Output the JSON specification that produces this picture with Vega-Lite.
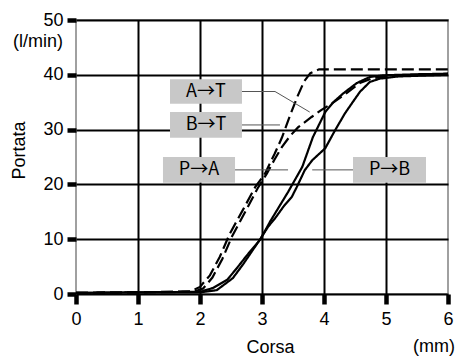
{
  "$schema": "https://vega.github.io/schema/vega-lite/v6.json",
  "width": 372,
  "height": 274,
  "autosize": "none",
  "padding": {"left": 76, "top": 20, "right": 15, "bottom": 62},
  "background": "white",
  "config": {
    "view": {"stroke": "#a0a0a0", "strokeWidth": 2},
    "font": "Liberation Sans"
  },
  "datasets": {
    "curves": [
      {"s": "A", "t": "dashed", "x": 0, "y": 0.2}, {"s": "A", "t": "dashed", "x": 1, "y": 0.3}, {"s": "A", "t": "dashed", "x": 1.85, "y": 0.5}, {"s": "A", "t": "dashed", "x": 2.0, "y": 1.3}, {"s": "A", "t": "dashed", "x": 2.16, "y": 3.4}, {"s": "A", "t": "dashed", "x": 2.32, "y": 6.8}, {"s": "A", "t": "dashed", "x": 2.48, "y": 11}, {"s": "A", "t": "dashed", "x": 2.69, "y": 15.3}, {"s": "A", "t": "dashed", "x": 2.89, "y": 19.5}, {"s": "A", "t": "dashed", "x": 3.05, "y": 22}, {"s": "A", "t": "dashed", "x": 3.2, "y": 25.5}, {"s": "A", "t": "dashed", "x": 3.32, "y": 28.5}, {"s": "A", "t": "dashed", "x": 3.45, "y": 32.5}, {"s": "A", "t": "dashed", "x": 3.57, "y": 36}, {"s": "A", "t": "dashed", "x": 3.68, "y": 38.8}, {"s": "A", "t": "dashed", "x": 3.78, "y": 40.3}, {"s": "A", "t": "dashed", "x": 3.92, "y": 41}, {"s": "A", "t": "dashed", "x": 6, "y": 41},
      {"s": "B", "t": "dashed", "x": 0, "y": 0.2}, {"s": "B", "t": "dashed", "x": 1, "y": 0.3}, {"s": "B", "t": "dashed", "x": 1.9, "y": 0.4}, {"s": "B", "t": "dashed", "x": 2.05, "y": 1.0}, {"s": "B", "t": "dashed", "x": 2.2, "y": 3.0}, {"s": "B", "t": "dashed", "x": 2.36, "y": 6.4}, {"s": "B", "t": "dashed", "x": 2.52, "y": 10.6}, {"s": "B", "t": "dashed", "x": 2.73, "y": 15}, {"s": "B", "t": "dashed", "x": 2.93, "y": 19.3}, {"s": "B", "t": "dashed", "x": 3.08, "y": 22}, {"s": "B", "t": "dashed", "x": 3.2, "y": 24.5}, {"s": "B", "t": "dashed", "x": 3.32, "y": 26.8}, {"s": "B", "t": "dashed", "x": 3.45, "y": 28.8}, {"s": "B", "t": "dashed", "x": 3.58, "y": 30.4}, {"s": "B", "t": "dashed", "x": 3.8, "y": 32.3}, {"s": "B", "t": "dashed", "x": 3.96, "y": 33.6}, {"s": "B", "t": "dashed", "x": 4.13, "y": 34.8}, {"s": "B", "t": "dashed", "x": 4.37, "y": 36.7}, {"s": "B", "t": "dashed", "x": 4.58, "y": 38.5}, {"s": "B", "t": "dashed", "x": 4.79, "y": 39.4}, {"s": "B", "t": "dashed", "x": 5.0, "y": 39.7}, {"s": "B", "t": "dashed", "x": 5.5, "y": 40.0}, {"s": "B", "t": "dashed", "x": 6, "y": 40.2},
      {"s": "PA", "t": "solid", "x": 0, "y": 0.2}, {"s": "PA", "t": "solid", "x": 1, "y": 0.3}, {"s": "PA", "t": "solid", "x": 2.0, "y": 0.4}, {"s": "PA", "t": "solid", "x": 2.21, "y": 1.1}, {"s": "PA", "t": "solid", "x": 2.44, "y": 2.6}, {"s": "PA", "t": "solid", "x": 2.6, "y": 4.8}, {"s": "PA", "t": "solid", "x": 2.76, "y": 7.1}, {"s": "PA", "t": "solid", "x": 2.97, "y": 9.9}, {"s": "PA", "t": "solid", "x": 3.13, "y": 13.2}, {"s": "PA", "t": "solid", "x": 3.28, "y": 16}, {"s": "PA", "t": "solid", "x": 3.42, "y": 18.6}, {"s": "PA", "t": "solid", "x": 3.54, "y": 21}, {"s": "PA", "t": "solid", "x": 3.65, "y": 23.2}, {"s": "PA", "t": "solid", "x": 3.82, "y": 28.6}, {"s": "PA", "t": "solid", "x": 4.02, "y": 33.2}, {"s": "PA", "t": "solid", "x": 4.15, "y": 35}, {"s": "PA", "t": "solid", "x": 4.31, "y": 36.6}, {"s": "PA", "t": "solid", "x": 4.53, "y": 38.5}, {"s": "PA", "t": "solid", "x": 4.74, "y": 39.6}, {"s": "PA", "t": "solid", "x": 4.95, "y": 39.9}, {"s": "PA", "t": "solid", "x": 5.5, "y": 40.1}, {"s": "PA", "t": "solid", "x": 6, "y": 40.2},
      {"s": "PB", "t": "solid", "x": 0, "y": 0.2}, {"s": "PB", "t": "solid", "x": 1, "y": 0.3}, {"s": "PB", "t": "solid", "x": 2.0, "y": 0.3}, {"s": "PB", "t": "solid", "x": 2.27, "y": 0.7}, {"s": "PB", "t": "solid", "x": 2.53, "y": 2.9}, {"s": "PB", "t": "solid", "x": 2.7, "y": 5.5}, {"s": "PB", "t": "solid", "x": 2.85, "y": 8.0}, {"s": "PB", "t": "solid", "x": 2.97, "y": 10}, {"s": "PB", "t": "solid", "x": 3.1, "y": 12.3}, {"s": "PB", "t": "solid", "x": 3.21, "y": 13.8}, {"s": "PB", "t": "solid", "x": 3.35, "y": 16}, {"s": "PB", "t": "solid", "x": 3.48, "y": 17.7}, {"s": "PB", "t": "solid", "x": 3.56, "y": 19.5}, {"s": "PB", "t": "solid", "x": 3.69, "y": 22.6}, {"s": "PB", "t": "solid", "x": 3.81, "y": 24.4}, {"s": "PB", "t": "solid", "x": 4.02, "y": 26.6}, {"s": "PB", "t": "solid", "x": 4.18, "y": 29.9}, {"s": "PB", "t": "solid", "x": 4.34, "y": 33}, {"s": "PB", "t": "solid", "x": 4.45, "y": 34.8}, {"s": "PB", "t": "solid", "x": 4.58, "y": 36.9}, {"s": "PB", "t": "solid", "x": 4.74, "y": 38.7}, {"s": "PB", "t": "solid", "x": 4.9, "y": 39.3}, {"s": "PB", "t": "solid", "x": 5.2, "y": 39.7}, {"s": "PB", "t": "solid", "x": 6, "y": 40.0}
    ],
    "boxes": [
      {"label": "A→T", "x1": 1.516, "x2": 2.677, "y1": 34.7, "y2": 39.2},
      {"label": "B→T", "x1": 1.516, "x2": 2.677, "y1": 28.5, "y2": 33.2},
      {"label": "P→A", "x1": 1.403, "x2": 2.565, "y1": 20.3, "y2": 25.0},
      {"label": "P→B", "x1": 4.468, "x2": 5.645, "y1": 20.3, "y2": 25.0}
    ],
    "leaders": [
      {"g": "A", "o": 1, "x": 2.677, "y": 36.95}, {"g": "A", "o": 2, "x": 3.21, "y": 36.95}, {"g": "A", "o": 3, "x": 3.77, "y": 33.2},
      {"g": "B", "o": 1, "x": 2.677, "y": 30.85}, {"g": "B", "o": 2, "x": 3.29, "y": 30.85},
      {"g": "PA", "o": 1, "x": 2.565, "y": 22.65}, {"g": "PA", "o": 2, "x": 3.42, "y": 22.65},
      {"g": "PB", "o": 1, "x": 4.468, "y": 22.65}, {"g": "PB", "o": 2, "x": 3.81, "y": 22.65}
    ],
    "units": [
      {"x": 6, "y": 0, "text": "(mm)", "k": "x"},
      {"x": 0, "y": 45, "text": "(l/min)", "k": "y"}
    ]
  },
  "layer": [
    {
      "data": {"name": "curves"},
      "mark": {"type": "line", "color": "black", "strokeWidth": 2.2, "clip": true},
      "encoding": {
        "x": {
          "field": "x", "type": "quantitative",
          "scale": {"domain": [0, 6], "nice": false, "zero": false},
          "axis": {
            "title": "Corsa",
            "titleFontSize": 18, "titleFontWeight": "normal", "titleColor": "black", "titleFont": "Liberation Sans",
            "titleX": 194, "titleY": 58, "titleBaseline": "alphabetic", "titleAlign": "center",
            "values": [0, 0.5, 1, 1.5, 2, 2.5, 3, 3.5, 4, 4.5, 5, 5.5, 6],
            "format": "d",
            "labelExpr": "datum.value % 1 === 0 ? datum.label : ''",
            "labelFontSize": 18, "labelColor": "black", "labelPadding": 6, "labelFlush": false, "labelOverlap": false,
            "domain": false,
            "tickColor": "black",
            "tickSize": 10,
            "tickWidth": {"condition": {"test": "datum.value % 1 === 0", "value": 4.5}, "value": 1.5},
            "grid": true, "gridColor": "black", "gridWidth": 2,
            "gridOpacity": {"condition": {"test": "datum.value % 1 === 0 && datum.value > 0 && datum.value < 6", "value": 1}, "value": 0}
          }
        },
        "y": {
          "field": "y", "type": "quantitative",
          "scale": {"domain": [0, 50], "nice": false},
          "axis": {
            "title": "Portata",
            "titleFontSize": 18, "titleFontWeight": "normal", "titleColor": "black", "titleFont": "Liberation Sans",
            "titleX": -57, "titleY": 130, "titleAlign": "center", "titleBaseline": "middle", "titleAngle": -90,
            "values": [0, 5, 10, 15, 20, 25, 30, 35, 40, 45, 50],
            "format": "d",
            "labelExpr": "datum.value % 10 === 0 ? datum.label : ''",
            "labelFontSize": 18, "labelColor": "black", "labelPadding": 4, "labelFlush": false, "labelOverlap": false,
            "domain": false,
            "tickColor": "black",
            "tickSize": 9,
            "tickWidth": {"condition": {"test": "datum.value % 10 === 0", "value": 4.5}, "value": 1.5},
            "grid": true, "gridColor": "black", "gridWidth": 2,
            "gridOpacity": {"condition": {"test": "datum.value % 10 === 0", "value": 1}, "value": 0}
          }
        },
        "detail": {"field": "s"},
        "strokeDash": {
          "field": "t", "type": "nominal",
          "scale": {"domain": ["dashed", "solid"], "range": [[12, 5], [1, 0]]},
          "legend": null
        }
      }
    },
    {
      "data": {"name": "leaders"},
      "mark": {"type": "line", "color": "#555555", "strokeWidth": 1},
      "encoding": {
        "x": {"field": "x", "type": "quantitative"},
        "y": {"field": "y", "type": "quantitative"},
        "detail": {"field": "g"},
        "order": {"field": "o"}
      }
    },
    {
      "data": {"name": "boxes"},
      "mark": {"type": "rect", "color": "#c8c8c8"},
      "encoding": {
        "x": {"field": "x1", "type": "quantitative"},
        "x2": {"field": "x2"},
        "y": {"field": "y1", "type": "quantitative"},
        "y2": {"field": "y2"}
      }
    },
    {
      "data": {"name": "boxes"},
      "transform": [
        {"calculate": "(datum.x1 + datum.x2) / 2", "as": "xm"},
        {"calculate": "(datum.y1 + datum.y2) / 2", "as": "ym"}
      ],
      "mark": {"type": "text", "fontSize": 18, "color": "black", "align": "center", "baseline": "middle", "font": "Noto Sans CJK JP"},
      "encoding": {
        "x": {"field": "xm", "type": "quantitative"},
        "y": {"field": "ym", "type": "quantitative"},
        "text": {"field": "label"}
      }
    },
    {
      "data": {"name": "units"},
      "transform": [{"filter": "datum.k === 'x'"}],
      "mark": {"type": "text", "fontSize": 18, "color": "black", "align": "right", "baseline": "alphabetic", "dx": 7, "dy": 58, "font": "Liberation Sans"},
      "encoding": {
        "x": {"field": "x", "type": "quantitative"},
        "y": {"field": "y", "type": "quantitative"},
        "text": {"field": "text"}
      }
    },
    {
      "data": {"name": "units"},
      "transform": [{"filter": "datum.k === 'y'"}],
      "mark": {"type": "text", "fontSize": 18, "color": "black", "align": "right", "baseline": "middle", "dx": -13, "dy": -5, "font": "Liberation Sans"},
      "encoding": {
        "x": {"field": "x", "type": "quantitative"},
        "y": {"field": "y", "type": "quantitative"},
        "text": {"field": "text"}
      }
    }
  ]
}
